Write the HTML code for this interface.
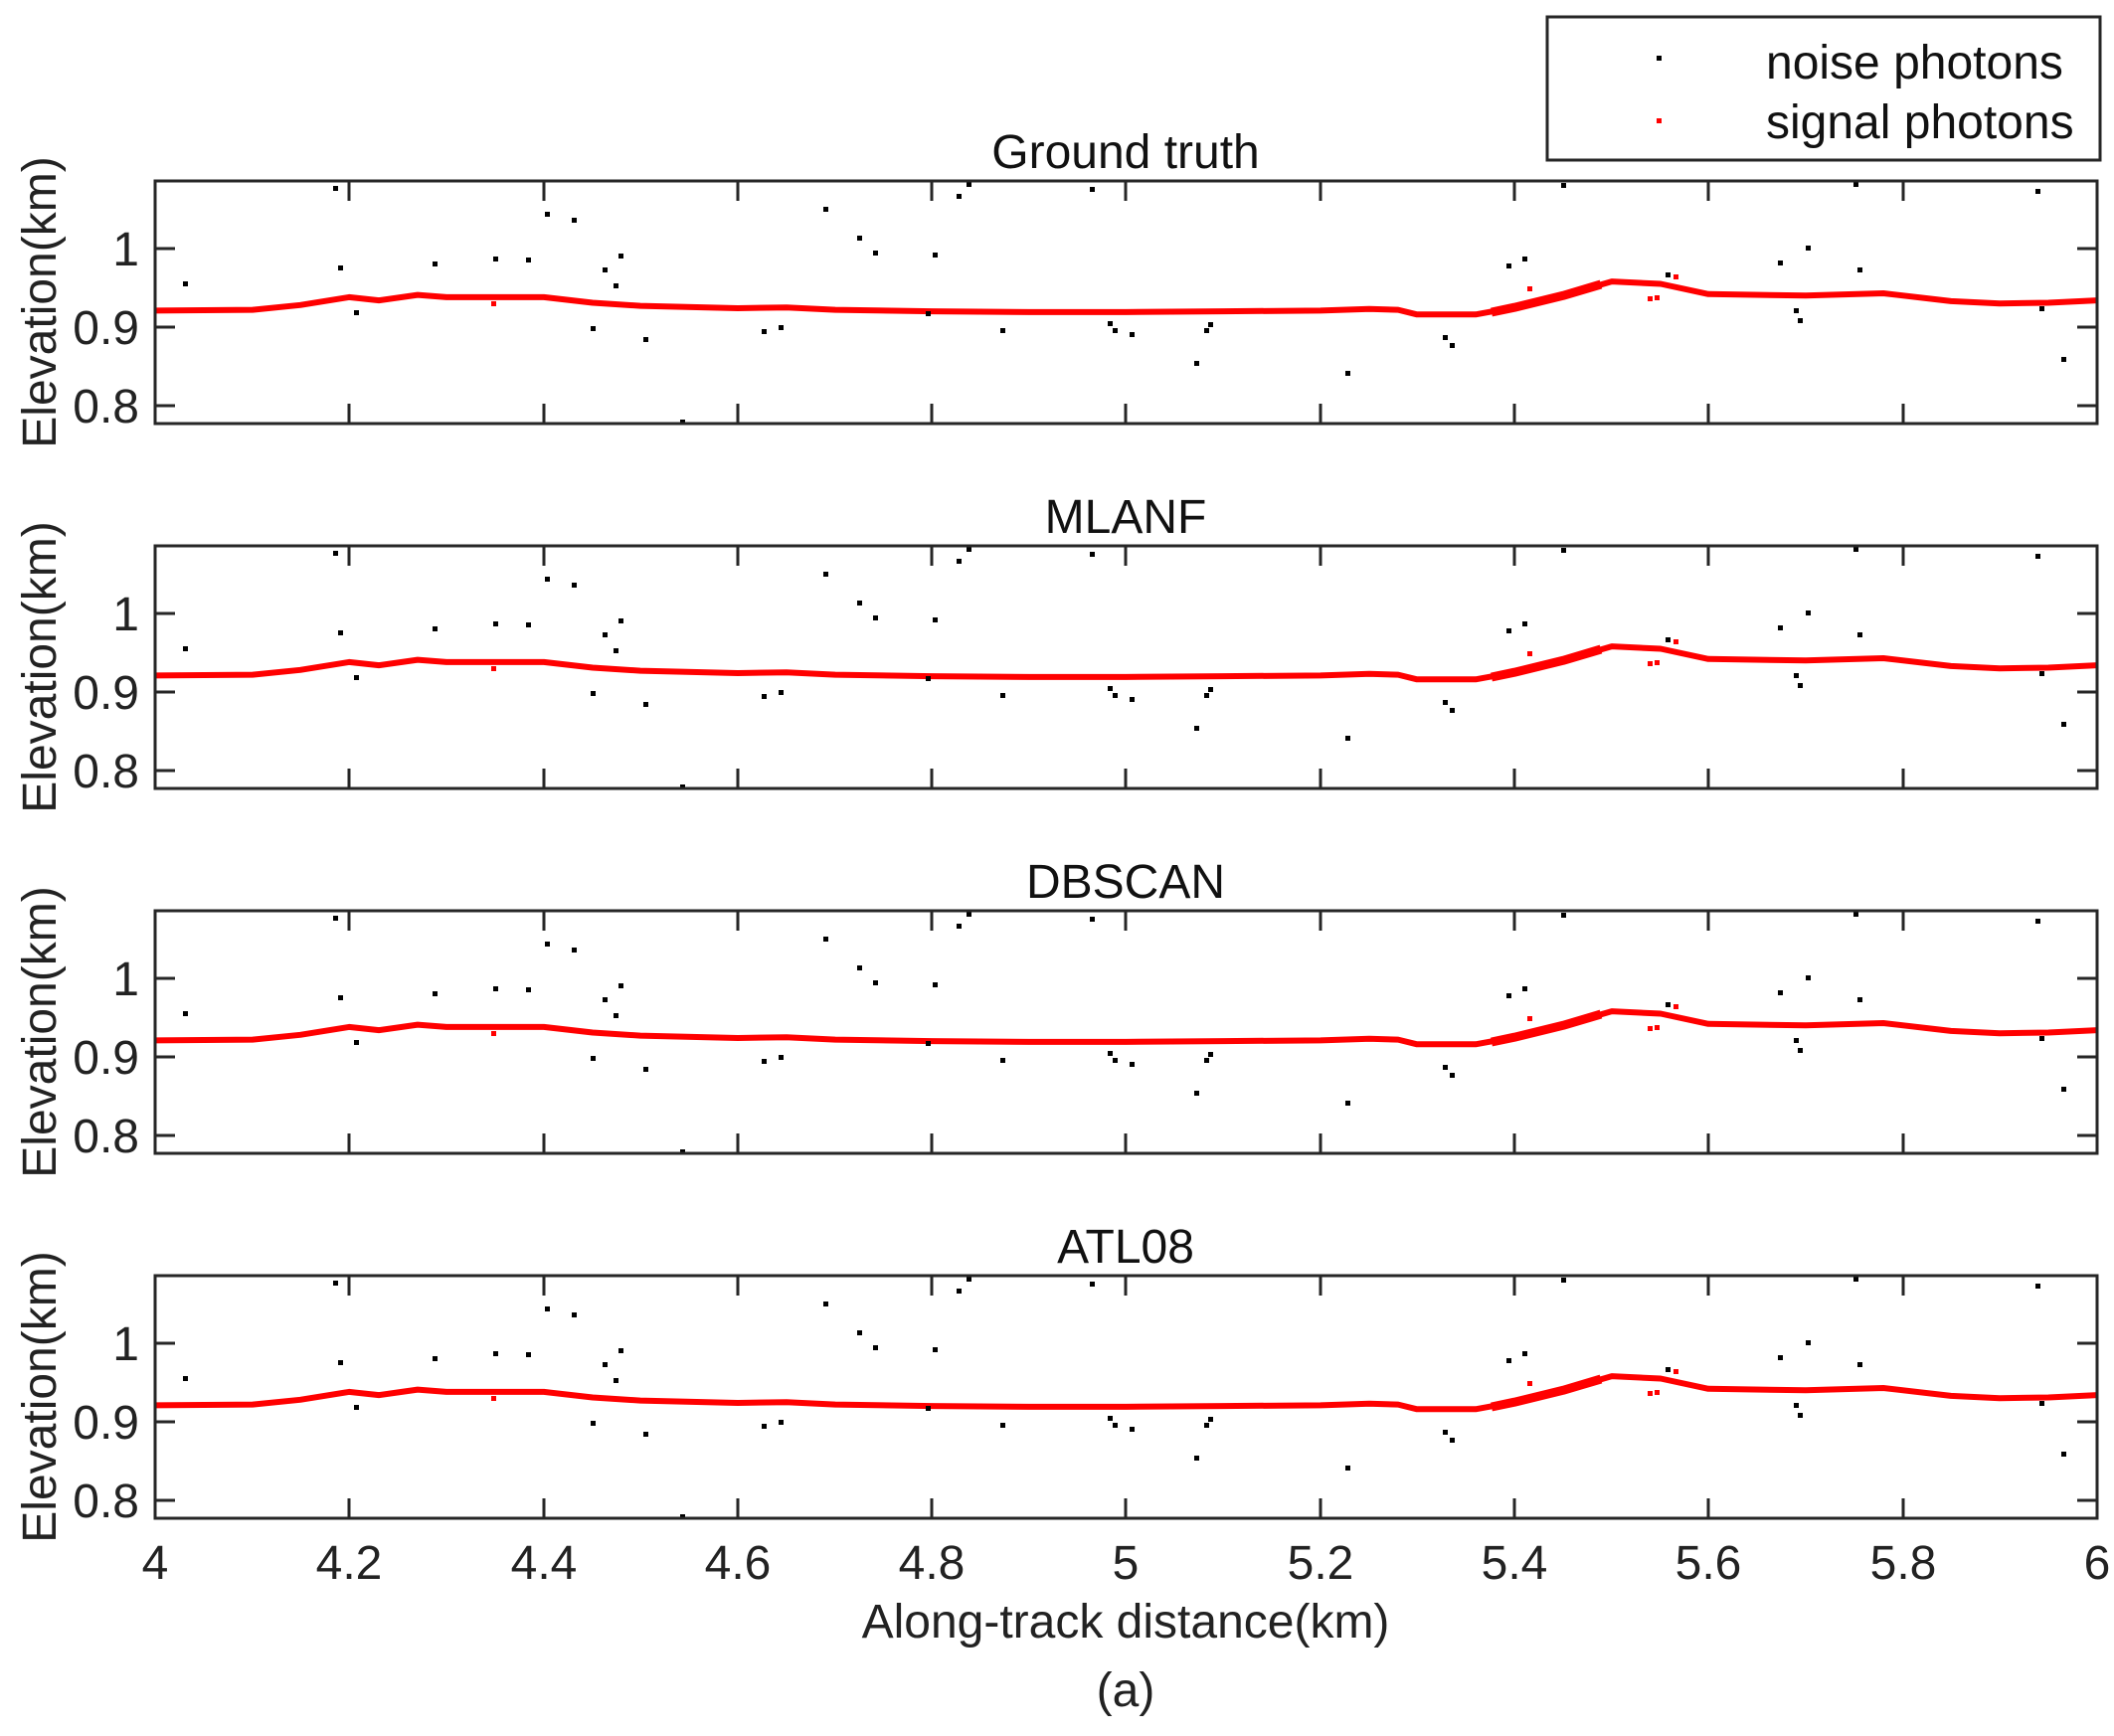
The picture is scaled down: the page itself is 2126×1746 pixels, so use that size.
<!DOCTYPE html>
<html><head><meta charset="utf-8"><style>html,body{margin:0;padding:0;background:#fff}svg{display:block}</style></head>
<body>
<svg xmlns="http://www.w3.org/2000/svg" xmlns:xlink="http://www.w3.org/1999/xlink" width="2126" height="1746" viewBox="0 0 2126 1746" font-family="Liberation Sans, Arial, sans-serif" fill="#222">
<defs>
<g id="panel">
  <path d="M156,130.4 L254,129.6 L302,124.8 L351,116.9 L381,120.1 L420,114.6 L449,116.9 L547,116.9 L596,122.5 L644,125.6 L742,128 L791,127.2 L840,129.6 L937,131.1 L1035,131.9 L1132,131.9 L1230,131.1 L1328,130.4 L1377,128.8 L1406,129.6 L1425,134.3 L1484,134.3 L1523,127.2 L1572,115.3 L1621,101.1 L1670,103.5 L1718,113.8 L1816,115.3 L1894,113 L1962,120.9 L2011,123.2 L2060,122.5 L2109,120.1" fill="none" stroke="#ff0000" stroke-width="6" stroke-linejoin="round"/>
  <path d="M1500,132 L1523,127.2 L1572,115.3 L1610,104" fill="none" stroke="#ff0000" stroke-width="9" stroke-linejoin="round"/>
  <g fill="#ff0000">
    <rect x="494" y="121" width="5" height="5"/><rect x="1536" y="106" width="5" height="5"/>
    <rect x="1657" y="116" width="5" height="5"/><rect x="1664" y="115" width="5" height="5"/>
    <rect x="1683" y="94" width="5" height="5"/>
  </g>
  <g fill="#000">
    <rect x="184" y="101" width="5" height="5"/><rect x="335" y="5" width="5" height="5"/>
    <rect x="340" y="85" width="5" height="5"/><rect x="356" y="130" width="5" height="5"/>
    <rect x="435" y="81" width="5" height="5"/><rect x="496" y="76" width="5" height="5"/>
    <rect x="529" y="77" width="5" height="5"/><rect x="548" y="31" width="5" height="5"/>
    <rect x="575" y="37" width="5" height="5"/><rect x="594" y="146" width="5" height="5"/>
    <rect x="606" y="87" width="5" height="5"/><rect x="617" y="103" width="5" height="5"/>
    <rect x="622" y="73" width="5" height="5"/><rect x="647" y="157" width="5" height="5"/>
    <rect x="684" y="240" width="5" height="5"/><rect x="766" y="149" width="5" height="5"/>
    <rect x="783" y="145" width="5" height="5"/><rect x="828" y="26" width="5" height="5"/>
    <rect x="862" y="55" width="5" height="5"/><rect x="878" y="70" width="5" height="5"/>
    <rect x="938" y="72" width="5" height="5"/><rect x="931" y="131" width="5" height="5"/>
    <rect x="962" y="13" width="5" height="5"/><rect x="972" y="1" width="5" height="5"/>
    <rect x="1006" y="148" width="5" height="5"/><rect x="1096" y="6" width="5" height="5"/>
    <rect x="1114" y="141" width="5" height="5"/><rect x="1119" y="148" width="5" height="5"/>
    <rect x="1136" y="152" width="5" height="5"/><rect x="1201" y="181" width="5" height="5"/>
    <rect x="1211" y="148" width="5" height="5"/><rect x="1215" y="142" width="5" height="5"/>
    <rect x="1353" y="191" width="5" height="5"/><rect x="1451" y="155" width="5" height="5"/>
    <rect x="1458" y="163" width="5" height="5"/><rect x="1515" y="83" width="5" height="5"/>
    <rect x="1531" y="76" width="5" height="5"/><rect x="1570" y="2" width="5" height="5"/>
    <rect x="1675" y="92" width="5" height="5"/><rect x="1788" y="80" width="5" height="5"/>
    <rect x="1816" y="65" width="5" height="5"/><rect x="1804" y="128" width="5" height="5"/>
    <rect x="1808" y="138" width="5" height="5"/><rect x="1864" y="1" width="5" height="5"/>
    <rect x="1868" y="87" width="5" height="5"/><rect x="2051" y="126" width="5" height="5"/>
    <rect x="2047" y="8" width="5" height="5"/><rect x="2073" y="177" width="5" height="5"/>
  </g>
  <g stroke="#262626" stroke-width="3" fill="none">
    <rect x="156" y="0" width="1953" height="244"/>
    <path d="M156,68h20M156,147h20M156,226h20M2109,68h-20M2109,147h-20M2109,226h-20"/>
    <path d="M351,0v20M547,0v20M742,0v20M937,0v20M1132,0v20M1328,0v20M1523,0v20M1718,0v20M1914,0v20"/>
    <path d="M351,244v-20M547,244v-20M742,244v-20M937,244v-20M1132,244v-20M1328,244v-20M1523,244v-20M1718,244v-20M1914,244v-20"/>
  </g>
  <g font-size="48" text-anchor="end" fill="#222">
    <text x="140" y="85">1</text><text x="140" y="164">0.9</text><text x="140" y="243">0.8</text>
  </g>
  <text transform="translate(56,122) rotate(-90)" font-size="48" text-anchor="middle" fill="#222">Elevation(km)</text>
</g>
</defs>

<use xlink:href="#panel" href="#panel" transform="translate(0,182)"/>
<use xlink:href="#panel" href="#panel" transform="translate(0,549)"/>
<use xlink:href="#panel" href="#panel" transform="translate(0,916)"/>
<use xlink:href="#panel" href="#panel" transform="translate(0,1283)"/>

<g font-size="48" text-anchor="middle" fill="#111">
  <text x="1132" y="169">Ground truth</text>
  <text x="1132" y="536">MLANF</text>
  <text x="1132" y="903">DBSCAN</text>
  <text x="1132" y="1270">ATL08</text>
</g>

<g font-size="48" text-anchor="middle" fill="#222">
  <text x="156" y="1588">4</text><text x="351" y="1588">4.2</text><text x="547" y="1588">4.4</text>
  <text x="742" y="1588">4.6</text><text x="937" y="1588">4.8</text><text x="1132" y="1588">5</text>
  <text x="1328" y="1588">5.2</text><text x="1523" y="1588">5.4</text><text x="1718" y="1588">5.6</text>
  <text x="1914" y="1588">5.8</text><text x="2109" y="1588">6</text>
  <text x="1132" y="1647">Along-track distance(km)</text>
  <text x="1132" y="1716">(a)</text>
</g>

<rect x="1556" y="17" width="556" height="144" fill="#fff" stroke="#262626" stroke-width="3"/>
<rect x="1666" y="56" width="5" height="5" fill="#000"/>
<rect x="1666" y="119" width="5" height="5" fill="#ff0000"/>
<g font-size="48" fill="#111">
  <text x="1776" y="79">noise photons</text>
  <text x="1776" y="139">signal photons</text>
</g>
</svg>
</body></html>
